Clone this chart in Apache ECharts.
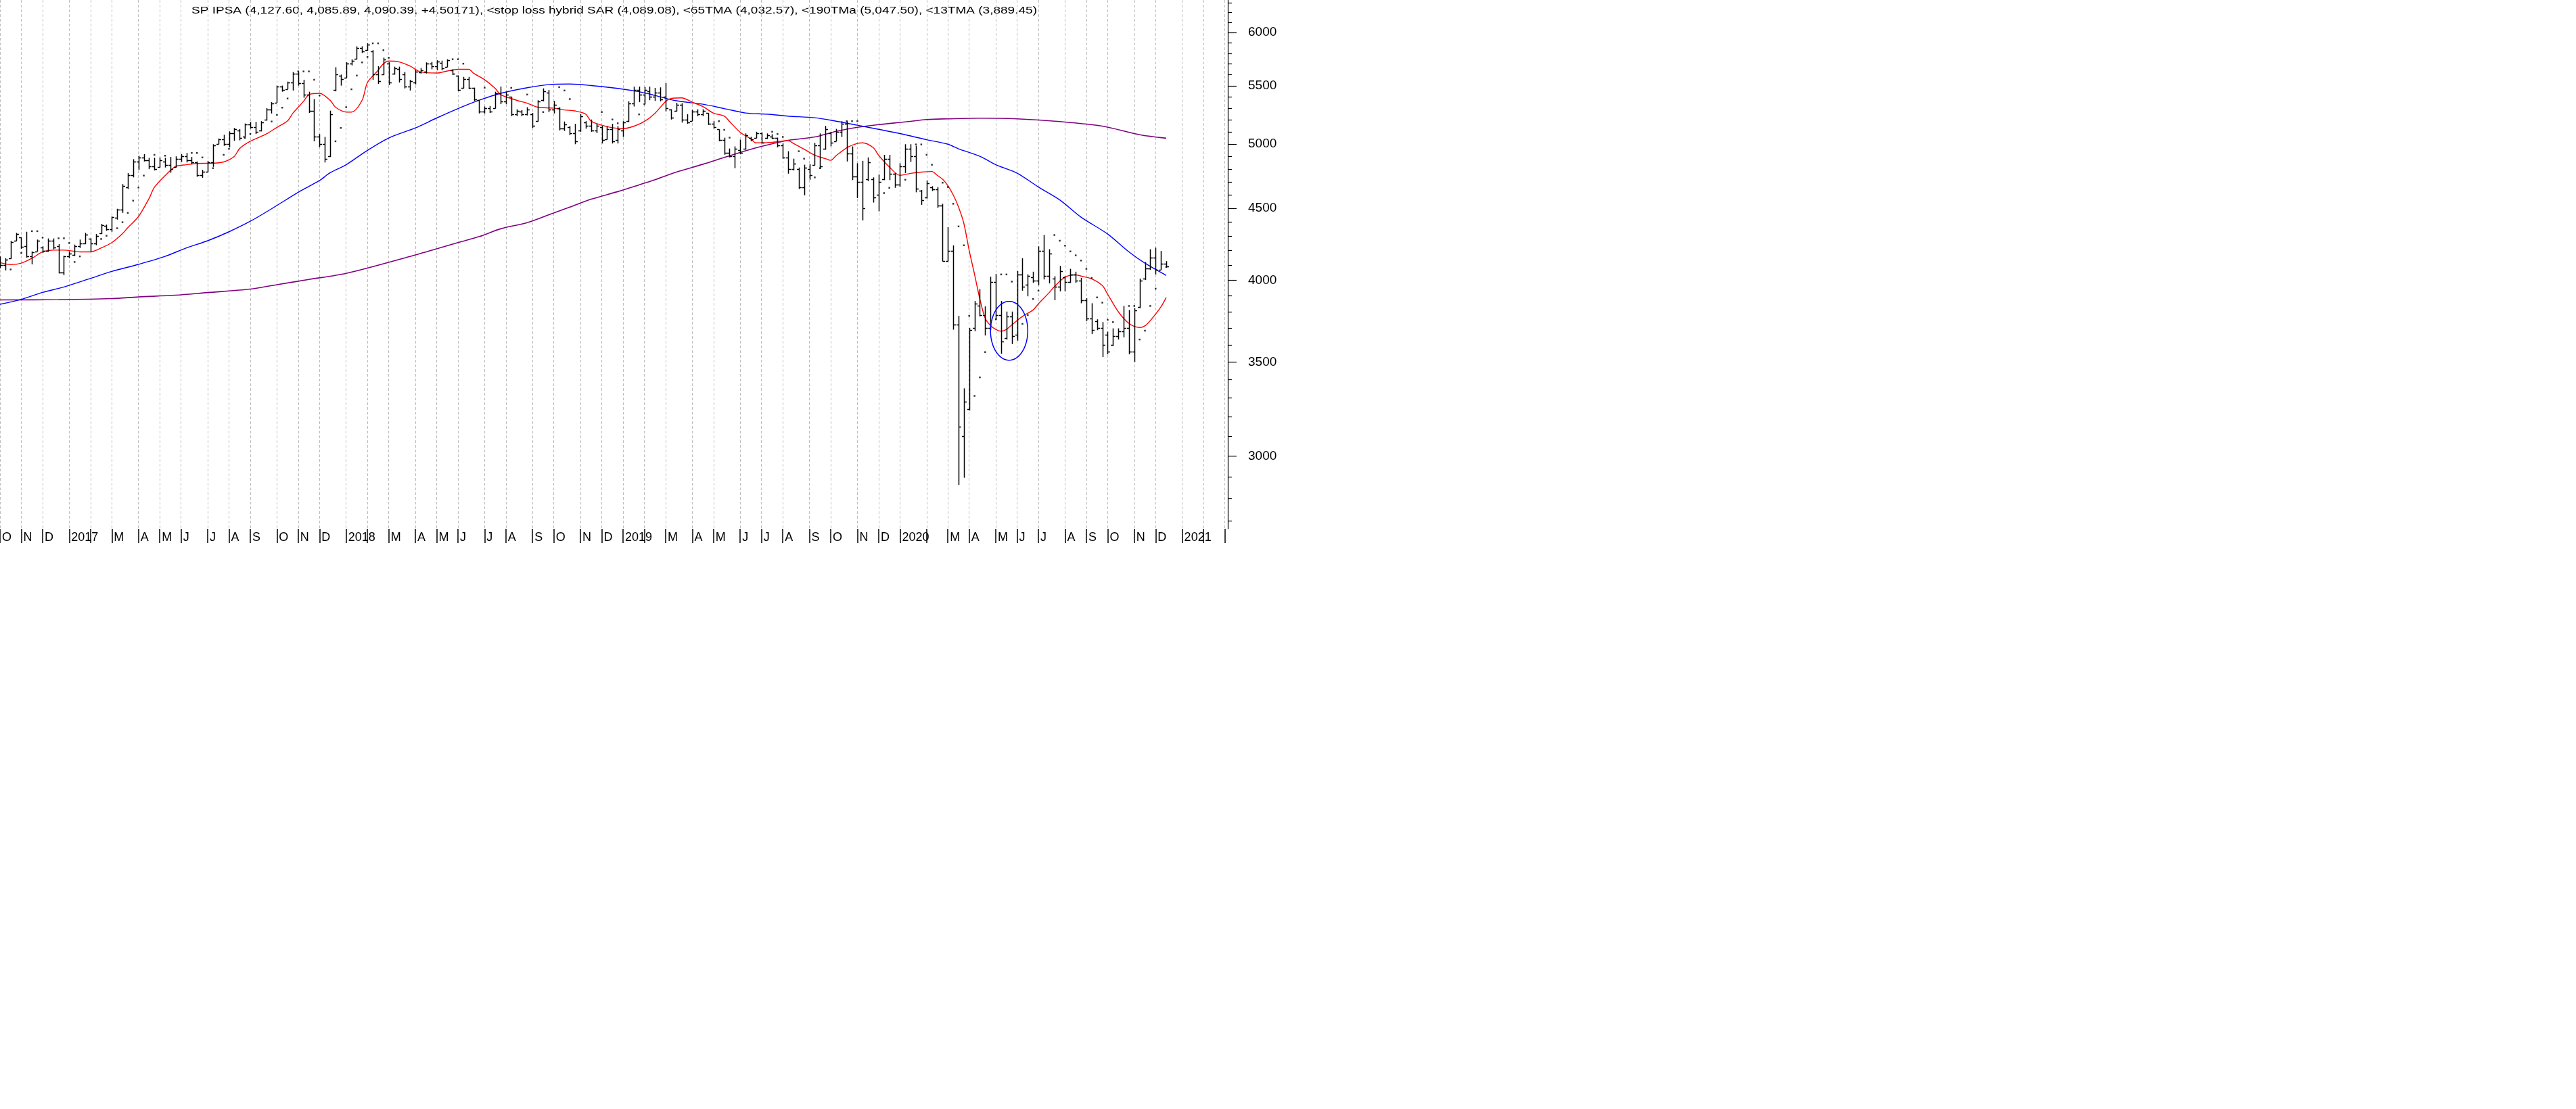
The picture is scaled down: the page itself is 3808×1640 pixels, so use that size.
<!DOCTYPE html>
<html><head><meta charset="utf-8">
<script src="https://cdn.jsdelivr.net/npm/echarts@6/dist/echarts.min.js"></script>
<style>html,body{margin:0;padding:0;background:#fff;}#c{width:3808px;height:1640px;}</style>
</head><body><div id="c"></div>
<script>
const titleText = 'SP IPSA (4,127.60, 4,085.89, 4,090.39, +4.50171), <stop loss hybrid SAR (4,089.08), <65TMA (4,032.57), <190TMa (5,047.50), <13TMA (3,889.45)';

// month tick labels (Oct 2016 .. Mar 2021) and number of weekly bars in each month
const monthLabels = ['O','N','D',
  '2017','','M','A','M','J','J','A','S','O','N','D',
  '2018','','M','A','M','J','J','A','S','O','N','D',
  '2019','','M','A','M','J','J','A','S','O','N','D',
  '2020','','M','A','M','J','J','A','S','O','N','D',
  '2021','',''];
const monthWeeks = [4,4,5,
  4,4,5,4,4,5,4,4,5,4,4,5,
  4,4,5,4,4,5,4,5,4,5,4,4,
  4,4,5,4,5,4,4,5,4,5,4,4,
  5,4,4,5,4,4,5,4,4,5,4,5,
  4,4,1];

// weekly OHLC
const opens = [4130,4100,4145,4270,4290,4230,4160,4195,4220,4200,
4270,4230,4050,4160,4170,4230,4250,4280,4250,4320,
4375,4350,4430,4490,4660,4750,4860,4890,4870,4820,
4815,4860,4830,4815,4880,4900,4870,4850,4750,4780,
4850,5000,5040,5000,5090,5110,5060,5160,5140,5110,
5200,5290,5350,5490,5470,5530,5610,5520,5420,5280,
5060,5000,4900,5460,5590,5570,5700,5745,5850,5830,
5820,5600,5600,5700,5610,5650,5600,5490,5530,5620,
5630,5700,5680,5710,5670,5640,5590,5480,5560,5480,
5370,5270,5300,5300,5430,5360,5400,5250,5270,5250,
5250,5190,5370,5440,5290,5300,5130,5140,5090,5110,
5180,5150,5110,5140,5040,5120,5030,5110,5190,5340,
5460,5420,5450,5400,5440,5400,5290,5280,5330,5200,
5190,5270,5250,5260,5170,5120,5030,4930,4900,4950,
4960,5050,5050,5090,5050,5060,5050,4990,4890,4800,
4800,4660,4800,4830,4990,4960,5090,5020,5100,5170,
4920,4740,4700,4720,4720,4600,4720,4880,4760,4680,
4820,4960,4900,4630,4580,4660,4640,4520,4130,4200,
3720,3100,3240,3700,3840,3780,3700,3990,3780,3640,
3770,3660,4040,3970,4020,4000,4200,4030,4010,3960,
4020,3990,4040,4000,3870,3760,3740,3700,3660,3600,
3650,3680,3700,3560,3830,4010,4080,4150,4070,4110];
const highs = [4160,4147,4268,4323,4292,4331,4194,4276,4229,4284,
4284,4244,4164,4194,4241,4276,4323,4284,4315,4387,
4382,4440,4497,4682,4767,4877,4904,4918,4888,4888,
4891,4888,4895,4900,4918,4927,4895,4859,4793,4864,
4998,5045,5076,5104,5133,5123,5170,5184,5184,5190,
5302,5354,5501,5501,5537,5625,5625,5554,5446,5381,
5082,5058,5280,5669,5601,5715,5743,5866,5866,5895,
5829,5678,5759,5715,5674,5674,5625,5554,5645,5662,
5714,5718,5734,5730,5743,5650,5594,5580,5580,5482,
5371,5316,5320,5446,5492,5446,5400,5292,5285,5310,
5260,5371,5476,5462,5365,5310,5187,5148,5168,5250,
5190,5204,5168,5150,5148,5168,5148,5190,5361,5492,
5492,5488,5492,5480,5485,5523,5292,5348,5345,5250,
5286,5292,5292,5260,5190,5121,5052,4963,4980,5035,
5087,5058,5101,5096,5087,5080,5052,5004,4941,4881,
4811,4833,4837,5009,5087,5150,5101,5125,5190,5190,
4980,4845,4864,4891,4734,4757,4912,4912,4767,4845,
4998,4998,4985,4637,4710,4666,4660,4534,4364,4236,
3774,3352,3700,3867,3943,3833,4024,4042,3867,3801,
3801,4061,4147,4039,4057,4229,4308,4209,4027,4096,
4027,4076,4057,4016,3885,3853,3753,3736,3678,3698,
3698,3836,3811,3822,4012,4121,4209,4220,4197,4127.6];
const lows = [4080,4066,4142,4266,4212,4152,4106,4194,4183,4191,
4209,4046,4034,4147,4163,4218,4244,4191,4237,4315,
4339,4331,4418,4467,4645,4734,4793,4859,4798,4788,
4811,4811,4770,4811,4855,4851,4837,4739,4731,4775,
4816,4998,4985,4972,5027,5030,5058,5127,5082,5104,
5195,5256,5348,5446,5468,5457,5501,5393,5260,5022,
4975,4851,4895,5451,5501,5570,5686,5743,5803,5823,
5554,5517,5599,5506,5601,5529,5476,5457,5512,5611,
5611,5650,5640,5640,5670,5597,5451,5476,5470,5365,
5256,5256,5260,5298,5336,5336,5233,5233,5233,5239,
5133,5187,5361,5268,5256,5113,5108,5073,4998,5101,
5127,5101,5090,5004,5035,5004,5004,5058,5183,5316,
5354,5336,5371,5365,5361,5274,5204,5274,5178,5168,
5190,5233,5233,5158,5127,5022,4913,4891,4806,4916,
4954,5022,5047,5004,5041,5041,4972,4881,4763,4788,
4645,4597,4716,4828,4801,4954,4980,5022,5058,4859,
4713,4576,4412,4705,4543,4478,4713,4713,4654,4663,
4767,4855,4620,4526,4573,4630,4504,4126,4126,3690,
2862,2896,3233,3681,3771,3655,3687,3750,3548,3631,
3604,3624,3933,3897,3984,3968,4006,3980,3872,3929,
3929,3984,3984,3853,3741,3664,3687,3528,3544,3592,
3631,3644,3544,3500,3822,4002,4069,4039,4069,4085.89];
const closes = [4100,4140,4260,4315,4225,4160,4190,4270,4200,4270,
4220,4052,4160,4180,4230,4250,4310,4250,4300,4380,
4350,4435,4490,4670,4750,4860,4890,4870,4820,4800,
4870,4830,4800,4880,4900,4870,4850,4750,4780,4850,
4990,5040,5000,5090,5120,5050,5160,5140,5100,5180,
5290,5340,5490,5460,5530,5610,5520,5420,5280,5060,
5000,4880,5250,5600,5560,5700,5730,5850,5820,5880,
5600,5540,5740,5530,5660,5560,5490,5540,5630,5640,
5700,5680,5720,5660,5735,5610,5460,5560,5480,5380,
5270,5300,5270,5430,5360,5420,5250,5280,5250,5290,
5150,5360,5450,5290,5330,5130,5160,5090,5020,5230,
5150,5110,5150,5030,5120,5020,5120,5180,5340,5460,
5420,5460,5400,5440,5380,5300,5220,5330,5200,5180,
5270,5250,5280,5170,5140,5030,4930,4900,4960,4930,
5070,5040,5090,5010,5070,5050,4990,4890,4800,4840,
4660,4810,4750,4990,4820,5120,5010,5100,5170,4920,
4740,4700,4500,4850,4580,4700,4880,4760,4680,4820,
4960,4900,4650,4560,4690,4640,4520,4130,4200,3720,
3150,3280,3690,3850,3780,3700,3990,3780,3620,3770,
3650,4040,3960,4030,4000,4200,4030,4180,3960,4060,
3990,4040,4000,3870,3760,3690,3700,3600,3560,3650,
3680,3700,3560,3810,4000,4080,4150,4070,4110,4090.39];

// stop loss hybrid SAR dots [week index, value]
const sarPoints = [[2,4072],[4,4183],[6,4335],[7,4335],[8,4290],[11,4285],[12,4285],[13,4252],[14,4122],[15,4160],
[19,4280],[20,4303],[22,4356],[23,4399],[24,4467],[25,4557],[26,4656],[27,4748],[29,4912],[31,4905],
[36,4927],[37,4927],[38,4891],[40,4806],[42,4912],[43,4960],[46,5050],[47,5082],[51,5187],[52,5244],
[53,5306],[54,5386],[56,5630],[57,5630],[58,5630],[59,5554],[60,5413],[63,5022],[64,5133],[65,5310],
[66,5468],[67,5592],[68,5714],[69,5765],[70,5895],[71,5895],[72,5829],[73,5757],[85,5743],[86,5743],
[87,5702],[91,5482],[96,5481],[99,5421],[102,5268],[105,5487],[106,5457],[107,5381],[113,5268],[115,5204],
[116,5172],[120,5248],[121,5336],[135,5190],[136,5117],[137,5052],[145,5101],[146,5082],[147,5058],[150,4941],
[151,4881],[153,4734],[154,4806],[159,5190],[160,5190],[161,5190],[166,4614],[167,4654],[170,4716],[172,4996],
[173,4996],[174,4912],[175,4833],[177,4693],[178,4660],[179,4534],[180,4369],[181,4236],[182,3774],[183,3311],
[184,3413],[185,3557],[187,3753],[188,4039],[189,4039],[190,3992],[192,3725],[193,3779],[194,3880],[195,3933],
[198,4308],[199,4268],[200,4234],[201,4194],[202,4167],[203,4132],[204,4076],[205,4016],[206,3890],[207,3857],
[208,3750],[209,3736],[212,3836],[213,3836],[214,3631],[215,3684],[216,3836],[217,3946],[219,4089.08]];

// 13TMA (red)
const ma13 = [[0,4118],[2,4104],[4,4114],[6,4147],[8,4191],[10,4203],[12,4203],[15,4191],[17,4191],[19,4218],
[21,4255],[23,4318],[24,4360],[26,4440],[28,4574],[29,4658],[31,4748],[33,4819],[35,4833],[37,4843],
[40,4845],[42,4855],[44,4900],[45,4963],[47,5022],[50,5082],[52,5138],[54,5193],[55,5258],[57,5361],
[58,5420],[60,5432],[62,5370],[63,5310],[65,5268],[66,5268],[68,5371],[69,5529],[71,5640],[72,5702],
[73,5727],[75,5718],[77,5680],[79,5625],[82,5615],[84,5634],[86,5650],[88,5650],[89,5611],[91,5554],
[93,5476],[94,5421],[97,5371],[99,5345],[101,5310],[104,5302],[106,5286],[108,5278],[110,5250],[111,5190],
[113,5156],[115,5135],[117,5127],[119,5147],[121,5187],[123,5258],[125,5361],[126,5386],[128,5392],[130,5354],
[132,5316],[134,5258],[136,5233],[137,5187],[139,5096],[141,5041],[142,5009],[145,5014],[148,5027],[149,5004],
[151,4957],[153,4908],[155,4881],[156,4868],[157,4905],[159,4969],[161,5004],[162,5009],[164,4969],[165,4908],
[167,4816],[169,4750],[171,4765],[173,4775],[175,4780],[176,4750],[177,4720],[178,4670],[179,4600],[180,4510],
[181,4390],[182,4200],[183,4040],[184,3880],[185,3760],[186,3715],[187,3692],[188,3681],[189,3692],[190,3719],
[192,3771],[194,3811],[195,3850],[197,3920],[198,3960],[200,4021],[202,4036],[203,4028],[205,4010],[207,3966],
[208,3910],[210,3800],[212,3728],[214,3703],[215,3713],[216,3745],[218,3830],[219,3889.45]];

// 65TMA (blue)
const ma65 = [[0,3846],[4,3878],[8,3922],[12,3957],[17,4013],[21,4059],[26,4106],[31,4160],[35,4218],[39,4268],
[43,4331],[47,4406],[51,4497],[56,4620],[60,4710],[62,4770],[65,4833],[69,4948],[73,5049],[78,5133],
[82,5217],[86,5298],[90,5371],[94,5432],[99,5482],[103,5510],[107,5515],[111,5502],[116,5476],[120,5446],
[123,5413],[127,5366],[132,5336],[136,5298],[140,5260],[144,5250],[148,5233],[153,5219],[157,5190],[161,5156],
[165,5121],[170,5076],[174,5035],[178,4998],[180,4960],[184,4900],[187,4833],[191,4767],[195,4660],[199,4563],
[203,4436],[208,4315],[212,4191],[215,4114],[219,4032.57]];

// 190TMa (purple)
const ma190 = [[0,3874],[11,3876],[21,3883],[26,3893],[33,3904],[39,3921],[47,3943],[52,3972],[58,4006],[65,4046],
[77,4160],[86,4255],[90,4297],[94,4352],[99,4396],[103,4452],[107,4509],[111,4568],[116,4625],[120,4676],
[123,4716],[127,4775],[132,4837],[136,4891],[140,4945],[144,4991],[148,5030],[153,5058],[157,5104],[161,5138],
[165,5161],[170,5184],[174,5204],[178,5210],[184,5216],[191,5210],[199,5187],[207,5148],[214,5076],[219,5047.5]];

// y ticks
const yMajorTicks = [3000,3500,4000,4500,5000,5500,6000];
const yMinorTicks = [2700,2800,2900,3100,3200,3300,3400,3600,3700,3800,3900,4100,4200,4300,4400,
  4600,4700,4800,4900,5100,5200,5300,5400,5600,5700,5800,5900,6100,6200,6300];
const yMin = 2664, yMax = 6328;

// annotation ellipse: [left week, right week, top value, bottom value]
const ellipseNote = [[185.9, 192.6, 3865, 3510]];

// ---- build ----
const cats = [], catLabel = [], isMonth = [];
monthLabels.forEach((lab, m) => {
  for (let w = 0; w < monthWeeks[m]; w++) {
    cats.push(m + '-' + w);
    catLabel.push(w === 0 ? lab : '');
    isMonth.push(w === 0);
  }
});
const ohlc = opens.map((o, i) => [i, o, highs[i], lows[i], closes[i]]);

const ctx = document.createElement('canvas').getContext('2d');
const titleFont = 15;
ctx.font = titleFont + 'px "Liberation Sans"';
const titleScale = 1250 / ctx.measureText(titleText).width;

const chart = echarts.init(document.getElementById('c'), null, {renderer: 'canvas'});
const left = -5.5, right = 1810.6, bottom = 782;
const axisFont = '"Liberation Sans", Arial, sans-serif';
const px = (v) => Math.round(v) + 0.5;

chart.setOption({
  animation: false,
  backgroundColor: '#ffffff',
  grid: {left: left, top: 0, width: right - left, height: bottom, containLabel: false},
  graphic: [{
    type: 'text', x: 283, y: 8, scaleX: titleScale, silent: true,
    style: {text: titleText, fontSize: titleFont, fontFamily: axisFont, fill: '#000', verticalAlign: 'top', align: 'left'}
  }],
  xAxis: {
    type: 'category', data: cats, boundaryGap: false,
    axisLine: {show: false},
    axisTick: {show: true, inside: false, length: 21, interval: (i) => isMonth[i], lineStyle: {color: '#000', width: 1.5}},
    axisLabel: {show: true, interval: (i) => isMonth[i], formatter: (v, i) => catLabel[i], align: 'left',
      padding: [0, 0, 0, 3], margin: 4, fontSize: 18, fontFamily: axisFont, color: '#000'},
    splitLine: {show: true, interval: (i) => isMonth[i], lineStyle: {color: '#bdbdbd', width: 1, type: [4, 3]}}
  },
  yAxis: [{
    type: 'log', min: yMin, max: yMax, position: 'right', offset: 4.4,
    axisLine: {show: true, lineStyle: {color: '#000', width: 1.2}},
    axisTick: {show: true, length: 13, customValues: yMajorTicks, lineStyle: {color: '#000', width: 1.2}},
    axisLabel: {show: true, customValues: yMajorTicks, margin: 30, fontSize: 19, fontFamily: axisFont, color: '#000',
      formatter: (v) => String(Math.round(v))},
    splitLine: {show: false}, minorTick: {show: false}
  }, {
    type: 'log', min: yMin, max: yMax, position: 'right', offset: 4.4,
    axisLine: {show: false},
    axisTick: {show: true, length: 6, customValues: yMinorTicks, lineStyle: {color: '#000', width: 1.2}},
    axisLabel: {show: false},
    splitLine: {show: false}
  }],
  series: [
    {type: 'line', name: '190TMa', data: ma190, yAxisIndex: 0, showSymbol: false, smooth: 0.3,
      lineStyle: {color: '#800080', width: 1.6}, z: 3},
    {type: 'line', name: '65TMA', data: ma65, yAxisIndex: 0, showSymbol: false, smooth: 0.3,
      lineStyle: {color: '#0000ff', width: 1.4}, z: 3},
    {type: 'line', name: '13TMA', data: ma13, yAxisIndex: 0, showSymbol: false, smooth: 0.3,
      lineStyle: {color: '#ff0000', width: 1.4}, z: 4},
    {type: 'custom', name: 'SP IPSA', data: ohlc, yAxisIndex: 0, z: 5, clip: false,
      encode: {x: 0, y: [1, 2, 3, 4]},
      renderItem: (params, api) => {
        const i = api.value(0);
        const o = api.coord([i, api.value(1)]);
        const h = api.coord([i, api.value(2)]);
        const l = api.coord([i, api.value(3)]);
        const c = api.coord([i, api.value(4)]);
        const x = px(h[0]);
        const st = {stroke: '#000', lineWidth: 1.5};
        return {type: 'group', children: [
          {type: 'line', shape: {x1: x, y1: h[1], x2: x, y2: l[1]}, style: st},
          {type: 'line', shape: {x1: x - 3.5, y1: px(o[1]), x2: x, y2: px(o[1])}, style: st},
          {type: 'line', shape: {x1: x, y1: px(c[1]), x2: x + 3.5, y2: px(c[1])}, style: st}
        ]};
      }
    },
    {type: 'scatter', name: 'SAR', data: sarPoints, yAxisIndex: 0, symbol: 'rect', symbolSize: 2.5,
      itemStyle: {color: '#000'}, z: 6},
    {type: 'custom', name: 'note', data: ellipseNote, yAxisIndex: 0, z: 7, clip: false,
      dimensions: [{name: 'l', type: 'float'}, {name: 'r', type: 'float'}, {name: 't', type: 'float'}, {name: 'b', type: 'float'}],
      encode: {x: [0, 1], y: [2, 3]},
      renderItem: (params, api) => {
        const a = api.coord([api.value(0), api.value(2)]);
        const b = api.coord([api.value(1), api.value(3)]);
        const cx = (a[0] + b[0]) / 2, cy = (a[1] + b[1]) / 2;
        const rx = Math.abs(b[0] - a[0]) / 2, ry = Math.abs(b[1] - a[1]) / 2;
        const pts = [];
        for (let k = 0; k <= 72; k++) {
          const t = k / 72 * Math.PI * 2;
          pts.push([cx + rx * Math.cos(t), cy + ry * Math.sin(t)]);
        }
        return {type: 'polyline', shape: {points: pts}, style: {stroke: '#0000ff', lineWidth: 1.5, fill: null}};
      }
    }
  ]
});
</script></body></html>
